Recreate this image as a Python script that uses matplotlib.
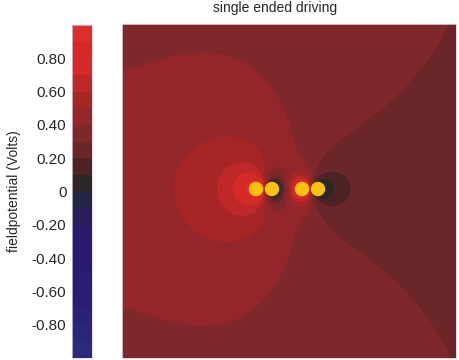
import numpy as np
import matplotlib.pyplot as plt
from matplotlib.colors import ListedColormap, BoundaryNorm
from matplotlib.patches import Circle

plt.rcParams['font.family'] = ['Liberation Sans', 'DejaVu Sans']

# conductor centres, pixel coordinates
cond_px = [256, 272, 302, 318]
cond_py = [189, 189, 189, 189]
cond_r_px = 6.5
axis_py = 189  # the picture is mirror symmetric about this row

obs_px = [122, 130, 140, 165, 203, 235, 260, 290, 303, 310,
          175, 185, 205, 230, 250, 262, 267,
          213, 220, 235, 252,
          230, 238, 247, 240,
          445, 430, 400, 373, 333, 317, 313,
          350, 345, 333,
          335, 324, 283, 273,
          302, 289, 264,
          250, 279, 296, 325,
          122, 122, 122, 160, 200, 240, 289, 380, 456, 122, 122, 456, 456]
obs_py = [85, 79, 72, 62, 56, 62, 83, 120, 153, 180,
          189, 158, 138, 132, 136, 145, 160,
          189, 170, 160, 165,
          189, 176, 171, 189,
          24, 87, 110, 122, 147, 167, 180,
          189, 177, 172,
          189, 178, 189, 172,
          172, 189, 189,
          189, 189, 189, 189,
          24, 50, 65, 24, 24, 24, 24, 24, 24, 189, 130, 189, 100]
obs_v = [0.4, 0.4, 0.4, 0.4, 0.4, 0.4, 0.4, 0.4, 0.4, 0.4,
         0.5, 0.5, 0.5, 0.5, 0.5, 0.5, 0.5,
         0.6, 0.6, 0.6, 0.6,
         0.7, 0.7, 0.7, 0.8,
         0.3, 0.3, 0.3, 0.3, 0.3, 0.3, 0.3,
         0.2, 0.2, 0.2,
         0.1, 0.1, 0.1, 0.1,
         0.6, 0.6, 0.6,
         0.95, 0.0, 0.85, -0.1,
         0.37, 0.38, 0.39, 0.375, 0.38, 0.375, 0.35, 0.33, 0.29,
         0.45, 0.43, 0.25, 0.27]

levels = np.round(np.arange(-1.0, 1.01, 0.1), 2)
band_colors = ['#2b2a7e', '#2a2679', '#2a2276', '#2a1e73', '#2a1c72',
               '#2a1a70', '#2a196e', '#2a196c', '#2b1e5a', '#232640',
               '#2c2626', '#4e2326', '#6a2629', '#7f282c', '#92262a',
               '#a62626', '#be2828', '#d42b28', '#d82826', '#dc2e2a']
tick_vals = [-0.8, -0.6, -0.4, -0.2, 0, 0.2, 0.4, 0.6, 0.8]
tick_text = ['-0.80', '-0.60', '-0.40', '-0.20', '0', '0.20', '0.40', '0.60', '0.80']


def to_units(px, py):
    return (np.asarray(px, float) - 289) / 167, (191 - np.asarray(py, float)) / 167


cx, cy = to_units(cond_px, cond_py)
cond_r = cond_r_px / 167
# use both halves of the picture
all_px = np.concatenate([obs_px, obs_px])
all_py = np.concatenate([obs_py, 2 * axis_py - np.asarray(obs_py)])
all_v = np.concatenate([obs_v, obs_v])
ox, oy = to_units(all_px, all_py)
mx, my = cx.mean(), cy.mean()

# far away sources standing in for whatever surrounds the picture
far_ang = np.deg2rad([0, 45, 90, 135, 180])
far_rad = 2.2
with_dipole = [True, False, True, False]


def basis(x, y):
    cols = [np.ones_like(x)]
    for a in far_ang:
        sx = mx + far_rad * np.cos(a)
        sy = far_rad * np.sin(a)
        col = np.log(1.0 / np.hypot(x - sx, y - my - sy))
        if 0 < a < np.pi:
            col = col + np.log(1.0 / np.hypot(x - sx, y - my + sy))
        cols.append(col)
    for i in range(len(cx)):
        dx, dy = x - cx[i], y - cy[i]
        r2 = np.maximum(dx ** 2 + dy ** 2, 1e-6)
        cols.append(-0.5 * np.log(r2))
        if with_dipole[i]:
            cols.append(dx / r2)
    return np.stack(cols, axis=-1)


coef, *_ = np.linalg.lstsq(basis(ox, oy), all_v, rcond=None)

xs = np.linspace(-1, 1, 700)
X, Y = np.meshgrid(xs, xs)
V = basis(X, Y) @ coef
V = np.clip(V, -0.999, 0.999)

cmap = ListedColormap(band_colors)
norm = BoundaryNorm(levels, cmap.N)

fig = plt.figure(figsize=(4.6, 3.6), dpi=100)
ax = fig.add_axes([122 / 460, 2 / 360, 334 / 460, 334 / 360])
cs = ax.contourf(X, Y, V, levels=levels, cmap=cmap, norm=norm)
for i in range(len(cx)):
    ax.add_patch(Circle((cx[i], cy[i]), cond_r, color='#f7c10e', zorder=3))
ax.set_xlim(-1, 1)
ax.set_ylim(-1, 1)
ax.set_xticks([])
ax.set_yticks([])
for s in ax.spines.values():
    s.set_color('#e0d0d0')
    s.set_linewidth(0.6)
fig.text(275 / 460, 1 - 8 / 360, 'single ended driving', fontsize=10,
         color='#262626', ha='center', va='center')

cax = fig.add_axes([72 / 460, 2 / 360, 20 / 460, 333 / 360])
cb = fig.colorbar(cs, cax=cax, ticks=tick_vals)
cb.ax.minorticks_off()
cb.ax.yaxis.set_ticks_position('left')
cb.ax.yaxis.set_label_position('left')
cb.ax.set_yticks(tick_vals)
cb.ax.set_yticklabels(tick_text, fontsize=11, color='#262626')
cb.ax.tick_params(which='both', length=0, pad=4)
cb.outline.set_edgecolor('#e0d8e0')
cb.outline.set_linewidth(0.5)
cb.set_label('fieldpotential (Volts)', fontsize=10, color='#262626', labelpad=8)

fig.savefig('out.png', dpi=100)
